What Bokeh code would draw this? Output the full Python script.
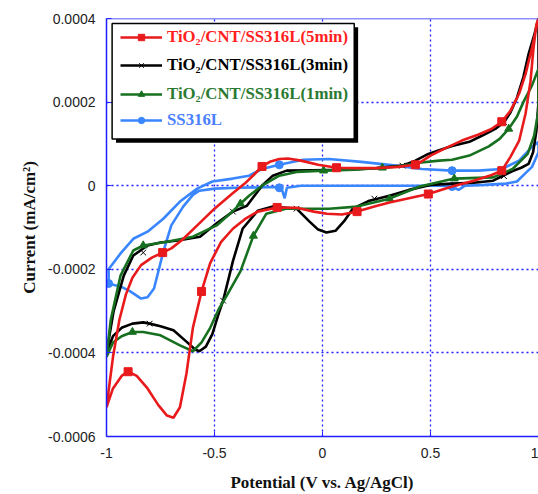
from bokeh.plotting import figure
from bokeh.models import (Range1d, FixedTicker, CustomJSTickFormatter, Legend, LegendItem,
                          BoxAnnotation, Span)
from bokeh.embed import file_html
from bokeh.resources import INLINE

S = 1e-4  # values below are in units of 1e-4 mA/cm2

# ---- TiO2/CNT/SS316L (5min) : closed CV loop ----
red_x = [-1.0, -0.97, -0.93, -0.9, -0.86, -0.81, -0.76, -0.72, -0.69, -0.66, -0.63, -0.6, -0.56,
         -0.52, -0.47, -0.415, -0.36, -0.3, -0.21, -0.12, -0.04, 0.02, 0.09, 0.16, 0.24, 0.31,
         0.4, 0.49, 0.6, 0.7, 0.78, 0.83, 0.87, 0.91, 0.94, 0.963, 0.977, 0.99, 1.0,
         0.97, 0.94, 0.91, 0.87, 0.83, 0.78, 0.72, 0.645, 0.57, 0.5, 0.45, 0.43, 0.35, 0.25,
         0.15, 0.065, -0.02, -0.1, -0.16, -0.2, -0.24, -0.28, -0.32, -0.36, -0.42, -0.5, -0.58,
         -0.65, -0.7, -0.74, -0.79, -0.84, -0.88, -0.91, -0.94, -0.97, -0.99, -1.0]
red_y = [-5.3, -4.85, -4.55, -4.45, -4.55, -4.85, -5.25, -5.5, -5.55, -5.3, -4.5, -3.4, -2.53,
         -1.85, -1.35, -1.03, -0.8, -0.62, -0.52, -0.53, -0.62, -0.67, -0.69, -0.62, -0.5, -0.4,
         -0.3, -0.2, -0.02, 0.12, 0.25, 0.36, 0.69, 1.07, 1.72, 2.5, 3.3, 3.85, 4.0,
         3.3, 2.67, 2.2, 1.79, 1.53, 1.35, 1.22, 1.08, 0.9, 0.72, 0.55, 0.5, 0.45, 0.42,
         0.42, 0.43, 0.5, 0.6, 0.65, 0.64, 0.58, 0.46, 0.25, 0.05, -0.2, -0.55, -0.95,
         -1.3, -1.5, -1.6, -1.72, -1.9, -2.2, -2.6, -3.2, -4.1, -4.9, -5.3]
red_mx = [-0.9, -0.56, -0.21, 0.16, 0.49, 0.83, 0.83, 0.43, 0.065, -0.28, -0.74]
red_my = [-4.45, -2.53, -0.52, -0.62, -0.2, 0.36, 1.53, 0.5, 0.43, 0.46, -1.6]

# ---- TiO2/CNT/SS316L (3min) ----
blk_x = [-1.0, -0.97, -0.93, -0.88, -0.83, -0.8, -0.75, -0.69, -0.63, -0.59, -0.57, -0.54, -0.51,
         -0.48, -0.46, -0.415, -0.37, -0.3, -0.23, -0.12, -0.06, -0.02, 0.018, 0.06, 0.1, 0.14,
         0.217, 0.31, 0.4, 0.5, 0.6, 0.7, 0.79, 0.84, 0.88, 0.92, 0.954, 0.975, 0.99, 1.0,
         1.0, 0.98, 0.954, 0.93, 0.9, 0.87, 0.84, 0.8, 0.74, 0.68, 0.6, 0.54, 0.49, 0.43, 0.37,
         0.25, 0.1, -0.05, -0.166, -0.23, -0.28, -0.35, -0.415, -0.49, -0.567, -0.67, -0.75,
         -0.81, -0.876, -0.92, -0.967, -1.0]
blk_y = [-4.0, -3.6, -3.4, -3.3, -3.27, -3.3, -3.36, -3.46, -3.73, -3.92, -3.96, -3.85, -3.55,
         -3.05, -2.75, -1.81, -1.03, -0.6, -0.5, -0.55, -0.86, -1.05, -1.12, -1.08, -0.85, -0.55,
         -0.36, -0.24, -0.1, 0.02, 0.05, 0.07, 0.12, 0.25, 0.35, 0.43, 0.52, 0.8, 1.3, 2.0,
         4.0, 3.6, 3.15, 2.6, 2.1, 1.75, 1.52, 1.36, 1.2, 1.05, 0.95, 0.85, 0.76, 0.6, 0.48,
         0.42, 0.38, 0.37, 0.36, 0.24, 0.0, -0.48, -0.62, -0.9, -1.22, -1.31, -1.36,
         -1.43, -1.67, -2.15, -3.0, -4.0]
blk_mx = [-0.8, -0.46, -0.12, 0.24, 0.84, 0.84, 0.37, -0.415, -0.83]
blk_my = [-3.3, -2.75, -0.55, -0.31, 0.23, 1.52, 0.48, -0.62, -1.6]

# ---- TiO2/CNT/SS316L (1min) ----
grn_x = [-1.0, -0.97, -0.93, -0.88, -0.83, -0.75, -0.66, -0.6, -0.56, -0.52, -0.48, -0.44, -0.38,
         -0.32, -0.26, -0.17, -0.05, 0.03, 0.16, 0.31, 0.45, 0.61, 0.79, 0.88, 0.95, 0.98, 1.0,
         1.0, 0.97, 0.93, 0.9, 0.862, 0.82, 0.77, 0.68, 0.6, 0.54, 0.447, 0.35, 0.277, 0.15,
         0.005, -0.12, -0.2, -0.28, -0.34, -0.38, -0.43, -0.49, -0.6, -0.72, -0.83, -0.876,
         -0.935, -0.98, -1.0]
grn_y = [-4.1, -3.75, -3.6, -3.5, -3.5, -3.58, -3.82, -3.96, -3.75, -3.4, -2.95, -2.6, -2.05,
         -1.2, -0.67, -0.55, -0.55, -0.55, -0.5, -0.31, -0.02, 0.17, 0.2, 0.4, 0.76, 1.2, 1.8,
         2.8, 2.4, 2.0, 1.65, 1.36, 1.12, 0.94, 0.72, 0.62, 0.6, 0.55, 0.46, 0.43, 0.38,
         0.36, 0.33, 0.24, 0.0, -0.24, -0.43, -0.68, -0.95, -1.22, -1.34, -1.43, -1.55,
         -2.15, -3.2, -4.1]
grn_mx = [-0.88, -0.32, 0.31, 0.61, 0.862, 0.277, 0.005, -0.38, -0.83]
grn_my = [-3.5, -1.2, -0.31, 0.17, 1.36, 0.43, 0.36, -0.43, -1.43]

# ---- SS316L ----
blu_x = [-0.99, -0.96, -0.935, -0.89, -0.84, -0.81, -0.78, -0.76, -0.737, -0.7, -0.645, -0.6,
         -0.57, -0.5, -0.4, -0.3, -0.22, -0.19, -0.175, -0.165, -0.1, 0.0, 0.2, 0.4, 0.55, 0.6,
         0.63, 0.66, 0.75, 0.85, 0.9, 0.94, 0.97, 1.0,
         1.0, 0.97, 0.91, 0.83, 0.72, 0.6, 0.46, 0.34, 0.18, 0.03, -0.09, -0.2, -0.28, -0.34,
         -0.415, -0.51, -0.58, -0.66, -0.737, -0.81, -0.876, -0.935, -0.99, -0.99]
blu_y = [-2.34, -2.38, -2.41, -2.53, -2.7, -2.67, -2.46, -2.05, -1.58, -0.95, -0.5, -0.22,
         -0.12, -0.07, -0.05, -0.04, -0.03, -0.06, -0.3, -0.05, 0.0, 0.0, 0.0, 0.0, 0.0, -0.02,
         -0.1, 0.0, 0.02, 0.05, 0.1, 0.3, 0.45, 0.8,
         1.05, 0.93, 0.6, 0.4, 0.36, 0.36, 0.4, 0.48, 0.57, 0.64, 0.62, 0.5, 0.4, 0.24,
         0.17, 0.1, -0.07, -0.38, -0.79, -1.1, -1.27, -1.62, -2.0, -2.34]
blu_mx = [-0.99, -0.2, 0.6, 0.6, -0.2]
blu_my = [-2.34, 0.5, 0.36, -0.02, -0.05]

x_ticks = [-1, -0.5, 0, 0.5, 1]
y_ticks = [-0.0006, -0.0004, -0.0002, 0, 0.0002, 0.0004]

labels = ["TiO\u2082/CNT/SS316L(5min)", "TiO\u2082/CNT/SS316L(3min)",
          "TiO\u2082/CNT/SS316L(1min)", "SS316L"]

RED, BLK, GRN, BLU = "#e81a1c", "#000000", "#17701f", "#3a86ff"
TXT = ["#ff1f1f", "#000000", "#2a7a32", "#4a7fff"]
AX = "#1f1fff"

p = figure(width=538, height=494, output_backend="svg", toolbar_location=None,
           x_range=Range1d(-1, 1), y_range=Range1d(-0.0006, 0.0004),
           min_border_left=106, min_border_right=0, min_border_top=18, min_border_bottom=57)
p.outline_line_color = None
p.background_fill_color = "white"

sc = lambda arr: [v * S for v in arr]

def series(xs, ys, mx, my, color, marker, msize, **kw):
    r1 = p.line(xs, sc(ys), line_color=color, line_width=2.6)
    r2 = p.scatter(mx, sc(my), marker=marker, size=msize, fill_color=color,
                   line_color=color, **kw)
    return [r1, r2]

rb = series(blu_x, blu_y, blu_mx, blu_my, BLU, "circle", 8)
rk = series(blk_x, blk_y, blk_mx, blk_my, BLK, "x", 8, line_width=1)
rg = series(grn_x, grn_y, grn_mx, grn_my, GRN, "triangle", 8)
rr = series(red_x, red_y, red_mx, red_my, RED, "square", 8)

# axes
for ax, t in ((p.xaxis, x_ticks), (p.yaxis, y_ticks)):
    ax.ticker = FixedTicker(ticks=t)
    ax.formatter = CustomJSTickFormatter(code="return String(Number(tick.toFixed(6)));")
    ax.axis_line_color = AX
    ax.axis_line_width = 1.5
    ax.major_tick_line_color = AX
    ax.major_tick_in = 5
    ax.major_tick_out = 0
    ax.minor_tick_line_color = None
    ax.major_label_text_font = "Liberation Sans"
    ax.major_label_text_font_size = "14px"
    ax.major_label_text_color = "#222222"
    ax.major_label_standoff = 11

p.xaxis.axis_label = "Potential (V vs. Ag/AgCl)"
p.yaxis.axis_label = "Current (mA/cm\u00b2)"
for ax in (p.xaxis, p.yaxis):
    ax.axis_label_text_font = "Liberation Serif"
    ax.axis_label_text_font_style = "bold"
    ax.axis_label_text_font_size = "17px"
    ax.axis_label_text_color = "#111111"
p.xaxis.axis_label_standoff = 12
p.yaxis.axis_label_standoff = 6

for g in (p.xgrid, p.ygrid):
    g.grid_line_color = AX
    g.grid_line_dash = "2 3"
    g.grid_line_width = 1.3
p.xgrid.ticker = FixedTicker(ticks=x_ticks[1:-1])
p.ygrid.ticker = FixedTicker(ticks=y_ticks[1:-1])

p.add_layout(Span(location=0.0004, dimension="width", line_color=AX, line_width=1.5))

# legend box with shadow
p.add_layout(BoxAnnotation(left=-0.956, right=0.165, top=0.000379, bottom=0.0001025,
                           fill_color="black", fill_alpha=1, line_color=None))
p.add_layout(BoxAnnotation(left=-0.974, right=0.147, top=0.000388, bottom=0.000112,
                           fill_color="white", fill_alpha=1, line_color="black",
                           line_width=1.5, line_alpha=1))

offsets = [389, 361, 332, 306]
for rs, lab, col, off in zip((rr, rk, rg, rb), labels, TXT, offsets):
    lg = Legend(items=[LegendItem(label=lab, renderers=rs)], location=(14, off),
                border_line_alpha=0, background_fill_alpha=0, padding=0, margin=0,
                spacing=0, glyph_width=42, glyph_height=16, label_height=16,
                label_standoff=5, label_text_font="Liberation Serif",
                label_text_font_style="bold", label_text_font_size="16.8px",
                label_text_color=col)
    p.add_layout(lg, "center")

open("out.html", "w").write(file_html(p, INLINE))
